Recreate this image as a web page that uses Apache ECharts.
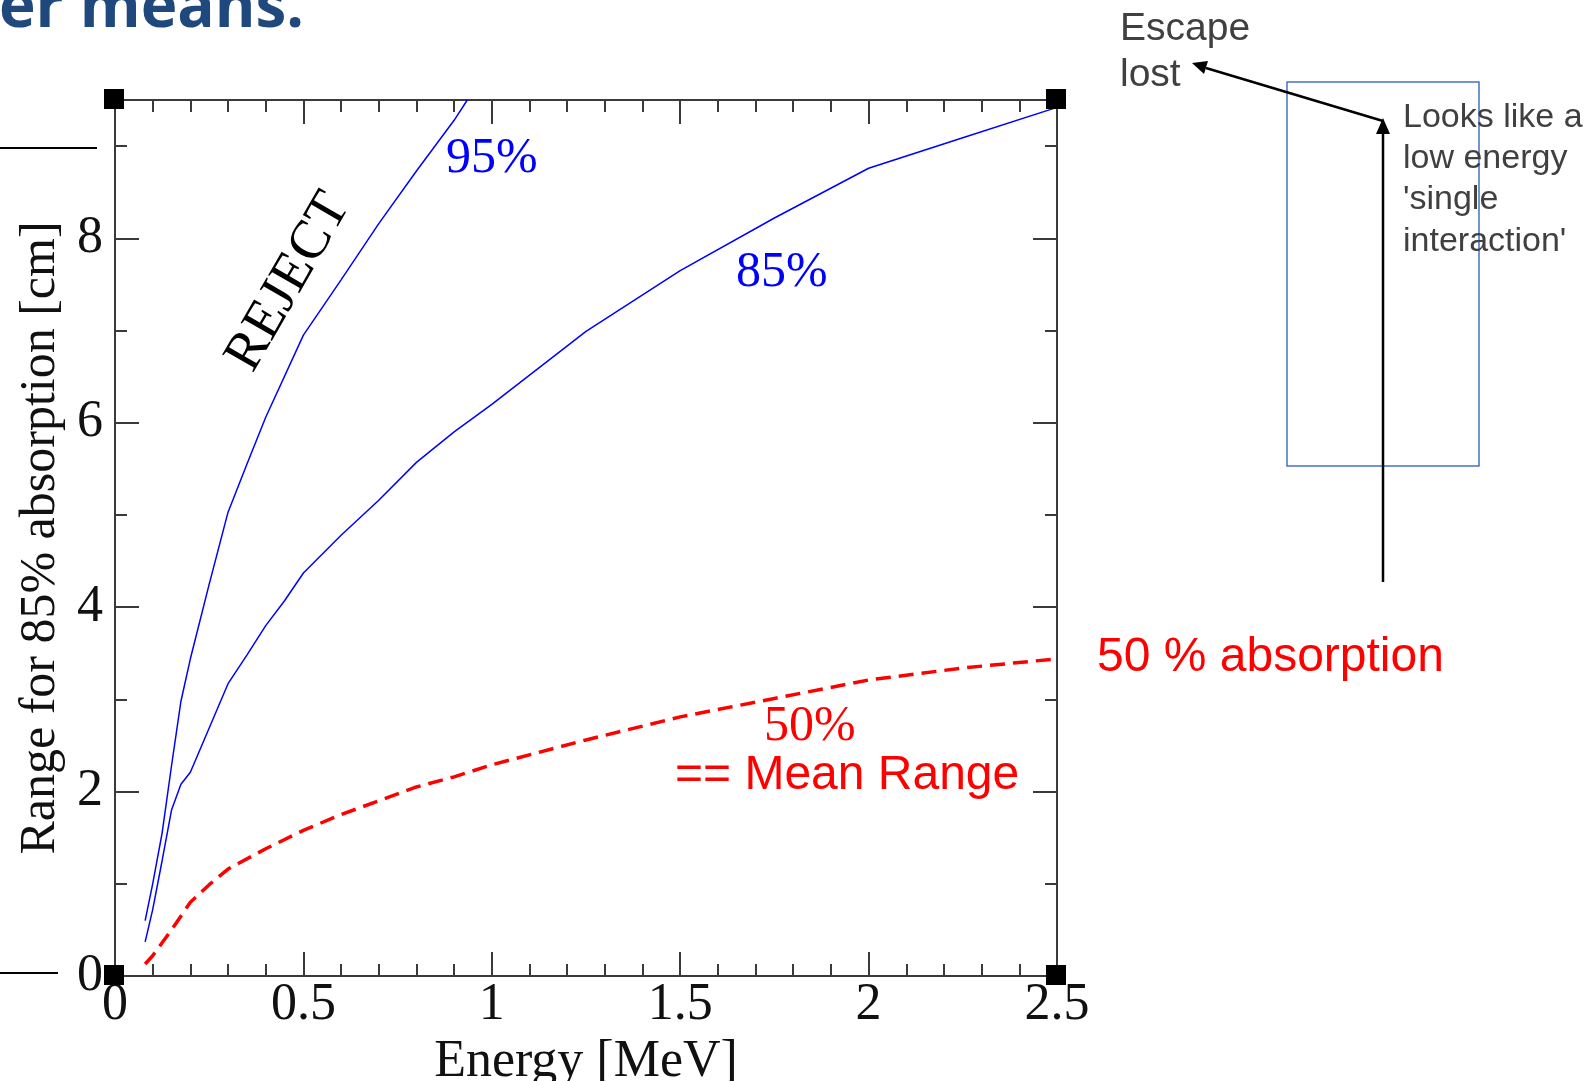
<!DOCTYPE html>
<html>
<head>
<meta charset="utf-8">
<script src="https://cdn.jsdelivr.net/npm/echarts@6/dist/echarts.min.js"></script>
<style>
  html, body { margin: 0; padding: 0; background: #ffffff; }
  #chart { width: 1595px; height: 1081px; }
</style>
</head>
<body>
<div id="chart"></div>
<script>
// Photon range in detector material needed to absorb a given fraction of gammas
const energy95 = [0.08, 0.10, 0.125, 0.15, 0.175, 0.20, 0.25, 0.30, 0.35, 0.40, 0.50, 0.60, 0.70, 0.80, 0.90, 0.935];
const range95  = [0.60, 1.00, 1.55, 2.28, 2.98, 3.44, 4.25, 5.03, 5.55, 6.06, 6.95, 7.55, 8.16, 8.73, 9.28, 9.50];

const energy85 = [0.08, 0.10, 0.125, 0.15, 0.175, 0.20, 0.25, 0.30, 0.35, 0.40, 0.45, 0.50, 0.60, 0.70, 0.80, 0.90, 1.00, 1.25, 1.50, 1.75, 2.00, 2.25, 2.50];
const range85  = [0.37, 0.72, 1.25, 1.80, 2.08, 2.21, 2.69, 3.17, 3.48, 3.80, 4.07, 4.37, 4.78, 5.16, 5.57, 5.90, 6.20, 6.99, 7.65, 8.22, 8.76, 9.09, 9.42];

const energy50 = [0.08, 0.10, 0.15, 0.20, 0.25, 0.30, 0.40, 0.50, 0.60, 0.70, 0.80, 0.90, 1.00, 1.25, 1.50, 1.75, 2.00, 2.25, 2.50];
const range50  = [0.13, 0.22, 0.50, 0.80, 0.99, 1.16, 1.38, 1.58, 1.75, 1.90, 2.05, 2.16, 2.29, 2.56, 2.81, 3.01, 3.21, 3.34, 3.44];

const xTicks = { min: 0, max: 2.5, step: 0.5, minorSplit: 5 };
const yTicks = { min: 0, max: 9.5, major: 2, minor: 1 };

const xName = 'Energy [MeV]';
const yName = 'Range for 85% absorption [cm]';

const zip = (xs, ys) => xs.map((x, i) => [x, ys[i]]);

const SERIF = "'Liberation Serif', 'Times New Roman', serif";
const SANS = "'Liberation Sans', Arial, sans-serif";
const AX = '#3a3a3a';

const G = { left: 115, top: 100, width: 942, height: 876 };

function xAxisDef(position, withLabels) {
  return {
    type: 'value', position: position,
    min: xTicks.min, max: xTicks.max, interval: xTicks.step,
    axisLine: { show: true, onZero: false, lineStyle: { color: AX, width: 2 } },
    axisTick: { show: true, inside: true, length: 24, lineStyle: { color: AX, width: 2 } },
    minorTick: { show: true, splitNumber: xTicks.minorSplit, length: 12, lineStyle: { color: AX, width: 2 } },
    splitLine: { show: false }, minorSplitLine: { show: false },
    axisLabel: { show: withLabels, margin: 3, fontFamily: SERIF, fontSize: 52, color: '#111' },
    name: withLabels ? xName : '', nameLocation: 'middle', nameGap: 54,
    nameTextStyle: { fontFamily: SERIF, fontSize: 52, color: '#111' }
  };
}

function yAxisDef(position, step, tickLen, withLabels, showLine) {
  return {
    type: 'value', position: position,
    min: yTicks.min, max: yTicks.max, interval: step,
    axisLine: { show: showLine, onZero: false, lineStyle: { color: AX, width: 2 } },
    axisTick: { show: true, inside: true, length: tickLen, lineStyle: { color: AX, width: 2 } },
    splitLine: { show: false },
    axisLabel: { show: withLabels, margin: 12, showMaxLabel: false, fontFamily: SERIF, fontSize: 52, color: '#111' },
    name: withLabels ? yName : '', nameLocation: 'middle', nameGap: 49, nameRotate: 90,
    nameTextStyle: { fontFamily: SERIF, fontSize: 50, color: '#111' }
  };
}

// frame corner handles
function cornerSquare(cx, cy) {
  return { type: 'rect', z: 100, shape: { x: cx - 11, y: cy - 11, width: 20, height: 20 }, style: { fill: '#000' } };
}
function text(str, x, y, font, fill, opts) {
  opts = opts || {};
  return {
    type: 'text', z: 100, x: x, y: y, rotation: opts.rotation || 0,
    style: {
      text: str, font: font, fill: fill,
      align: opts.align || 'left', textAlign: opts.align || 'left',
      verticalAlign: 'middle', textVerticalAlign: 'middle'
    }
  };
}

const x0 = G.left, x1 = G.left + G.width, y0 = G.top, y1 = G.top + G.height;

const graphics = [
  // slide heading fragment and rules
  text('er means.', 304, 9, "bold 62px 'Open Sans', sans-serif", '#1f497d', { align: 'right' }),
  { type: 'line', z: 100, shape: { x1: 0, y1: 148, x2: 97, y2: 148 }, style: { stroke: '#000', lineWidth: 2 } },
  { type: 'line', z: 100, shape: { x1: 0, y1: 973, x2: 58, y2: 973 }, style: { stroke: '#000', lineWidth: 2 } },

  cornerSquare(x0, y0), cornerSquare(x1, y0), cornerSquare(x0, y1), cornerSquare(x1, y1),

  // curve labels
  text('95%', 446, 159, '50px ' + SERIF, '#0000ff'),
  text('85%', 736, 273, '50px ' + SERIF, '#0000ff'),
  text('50%', 764, 727, '50px ' + SERIF, '#ff0000'),
  text('REJECT', 289, 282, '55px ' + SERIF, '#000', { align: 'center', rotation: 60 * Math.PI / 180 }),
  text('== Mean Range', 675, 776, '48px ' + SANS, '#ff0000'),
  text('50 % absorption', 1097, 658, '48px ' + SANS, '#ff0000'),

  // side notes
  text('Escape', 1120, 29, '39px ' + SANS, '#404040'),
  text('lost', 1120, 75, '39px ' + SANS, '#404040'),
  { type: 'rect', z: 90, shape: { x: 1287, y: 82, width: 192, height: 384 }, style: { fill: 'none', stroke: '#4472c4', lineWidth: 1.5 } },
  text('Looks like a', 1403, 118, '34px ' + SANS, '#404040'),
  text('low energy', 1403, 159, '34px ' + SANS, '#404040'),
  text("'single", 1403, 200, '34px ' + SANS, '#404040'),
  text("interaction'", 1403, 242, '34px ' + SANS, '#404040'),

  { type: 'line', z: 100, shape: { x1: 1383, y1: 582, x2: 1383, y2: 132 }, style: { stroke: '#000', lineWidth: 2.5 } },
  { type: 'polygon', z: 100, shape: { points: [[1383, 118], [1376, 134], [1390, 134]] }, style: { fill: '#000' } },
  { type: 'line', z: 100, shape: { x1: 1383, y1: 121, x2: 1206, y2: 68 }, style: { stroke: '#000', lineWidth: 2.5 } },
  { type: 'polygon', z: 100, shape: { points: [[1192, 63], [1208, 61], [1204, 74]] }, style: { fill: '#000' } }
];

const chart = echarts.init(document.getElementById('chart'), null, { renderer: 'canvas' });
chart.setOption({
  animation: false,
  backgroundColor: '#ffffff',
  grid: { left: G.left, top: G.top, width: G.width, height: G.height, containLabel: false, outerBoundsMode: 'none' },
  xAxis: [xAxisDef('bottom', true), xAxisDef('top', false)],
  yAxis: [
    yAxisDef('left', yTicks.major, 24, true, true),
    yAxisDef('left', yTicks.minor, 12, false, false),
    yAxisDef('right', yTicks.major, 24, false, true),
    yAxisDef('right', yTicks.minor, 12, false, false)
  ],
  series: [
    { name: '95%', type: 'line', xAxisIndex: 0, yAxisIndex: 0, data: zip(energy95, range95), showSymbol: false, clip: true,
      lineStyle: { color: '#0000ff', width: 1.5 }, z: 3 },
    { name: '85%', type: 'line', xAxisIndex: 0, yAxisIndex: 0, data: zip(energy85, range85), showSymbol: false, clip: true,
      lineStyle: { color: '#0000ff', width: 1.5 }, z: 3 },
    { name: '50%', type: 'line', xAxisIndex: 0, yAxisIndex: 0, data: zip(energy50, range50), showSymbol: false, clip: true,
      lineStyle: { color: '#ff0000', width: 3.5, type: [15, 8] }, z: 3 }
  ],
  graphic: graphics
});
</script>
</body>
</html>
